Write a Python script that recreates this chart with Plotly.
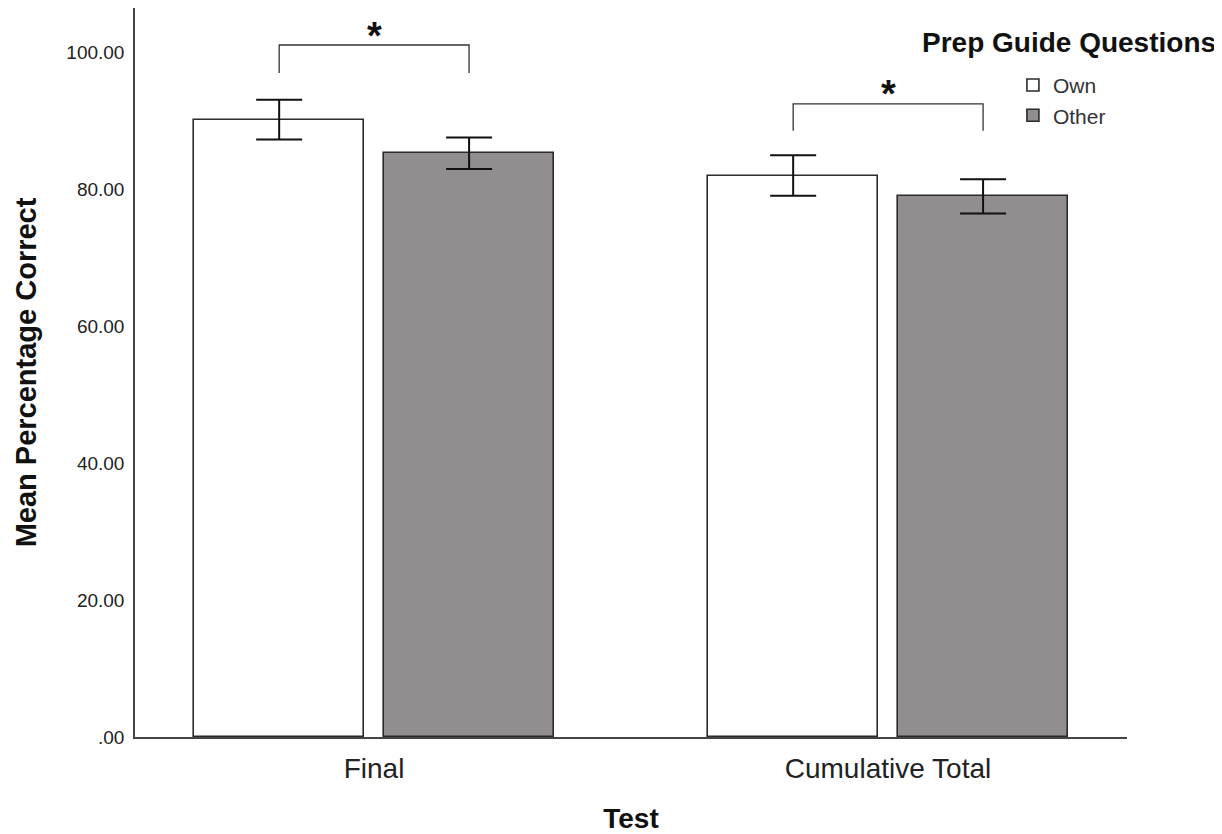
import plotly.graph_objects as go

categories = ["Final", "Cumulative Total"]
own_means = [90.1, 81.95]
own_err = [2.9, 2.95]
other_means = [85.2, 78.9]
other_err = [2.3, 2.5]
y_ticks = [0, 20, 40, 60, 80, 100]
y_tick_labels = [".00", "20.00", "40.00", "60.00", "80.00", "100.00"]
bracket_low = [96.9, 88.5]
bracket_high = [101.0, 92.4]
star_y = [102.3, 93.8]

x_pos = list(range(len(categories)))
bar_w = 0.331
own_off = -0.350
other_off = 0.0195
FONT = "Liberation Sans, Arial, sans-serif"
EDGE = "#2b2b2b"

fig = go.Figure()
fig.add_trace(go.Bar(
    name="Own", x=x_pos, y=own_means, width=bar_w, offset=own_off,
    marker=dict(color="white", line=dict(color=EDGE, width=1.6)),
    error_y=dict(type="data", array=own_err, visible=True, color="#111", thickness=2, width=23),
))
fig.add_trace(go.Bar(
    name="Other", x=x_pos, y=other_means, width=bar_w, offset=other_off,
    marker=dict(color="#928d8f", line=dict(color=EDGE, width=1.6)),
    error_y=dict(type="data", array=other_err, visible=True, color="#111", thickness=2, width=23),
))

# significance brackets
for i, xc in enumerate(x_pos):
    x1 = xc + own_off + bar_w / 2
    x2 = xc + other_off + bar_w / 2
    fig.add_trace(go.Scatter(
        x=[x1, x1, x2, x2],
        y=[bracket_low[i], bracket_high[i], bracket_high[i], bracket_low[i]],
        mode="lines", line=dict(color="#333", width=1.3),
        showlegend=False, hoverinfo="skip",
    ))
    fig.add_annotation(x=(x1 + x2) / 2, y=star_y[i], text="<b>*</b>", showarrow=False,
                       font=dict(family=FONT, size=38, color="#111"), yanchor="middle")

fig.add_annotation(xref="paper", yref="paper", x=1.0917, y=0.953, xanchor="right", yanchor="middle",
                   text="<b>Prep Guide Questions</b>", showarrow=False,
                   font=dict(family=FONT, size=28, color="#111"))

fig.update_layout(
    width=1214, height=826,
    margin=dict(l=127, r=95, t=0, b=97),
    plot_bgcolor="white", paper_bgcolor="white",
    barmode="overlay",
    bargap=0,
    font=dict(family=FONT, color="#222"),
    legend=dict(x=0.885, y=0.922, xanchor="left", yanchor="top",
                font=dict(family=FONT, size=21, color="#333"),
                bgcolor="rgba(0,0,0,0)", tracegroupgap=0, itemclick=False),
    xaxis=dict(range=[-0.465, 1.465], tickvals=x_pos, ticktext=categories,
               showgrid=False, zeroline=False, showline=True, linecolor="#444", linewidth=1.5,
               ticks="", tickfont=dict(family=FONT, size=28, color="#222"), ticklabelstandoff=6,
               title=dict(text="<b>Test</b>", font=dict(family=FONT, size=28, color="#111"), standoff=30)),
    yaxis=dict(range=[0, 106.4], tickvals=y_ticks, ticktext=y_tick_labels,
               showgrid=False, zeroline=False, showline=True, linecolor="#444", linewidth=1.5,
               ticks="", tickfont=dict(family=FONT, size=19, color="#222"), ticklabelstandoff=5,
               title=dict(text="<b>Mean Percentage Correct</b>", font=dict(family=FONT, size=29, color="#111"), standoff=21)),
)

fig.write_html("out.html")
